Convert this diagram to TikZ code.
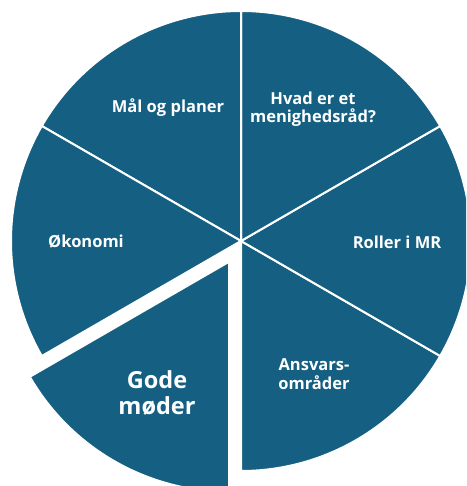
\documentclass[tikz,border=0pt]{standalone}
\usepackage{fontspec}
\setmainfont{Open Sans}
\definecolor{piefill}{HTML}{156082}

\begin{document}
\begin{tikzpicture}[x=1pt, y=1pt,
    piece/.style={fill=piefill, draw=white, line width=2pt, line join=round},
    lbl/.style={text=white, font=\fontsize{16.5}{18.5}\selectfont\bfseries, align=center},
    biglbl/.style={text=white, font=\fontsize{23.5}{26.5}\selectfont\bfseries, align=center}]
                \useasboundingbox (-241,-245) rectangle (225,241);
                \clip (-241,-245) rectangle (225,241);

                \foreach \a in {-90,-30,30,90,150}
                    \filldraw[piece] (0,0) -- (\a:230) arc[start angle=\a, end angle=\a+60, radius=230] -- cycle;
                \filldraw[piece, shift={(240:24)}] (0,0) -- (210:230) arc[start angle=210, end angle=270, radius=230] -- cycle;

                \node[lbl] (mal) at (-73,133) {Mål og planer};
                \node[lbl] (hvad) at (72,132) {Hvad er et\\menighedsråd?};
                \node[lbl] (roller) at (156,-1) {Roller i MR};
                \node[lbl] (ansvar) at (73,-133) {Ansvars-\\områder};
                \node[lbl] (okonomi) at (-155,-1) {Økonomi};
                \node[biglbl] (gode) at (-84,-152) {Gode\\møder};
            \end{tikzpicture}
\end{document}
